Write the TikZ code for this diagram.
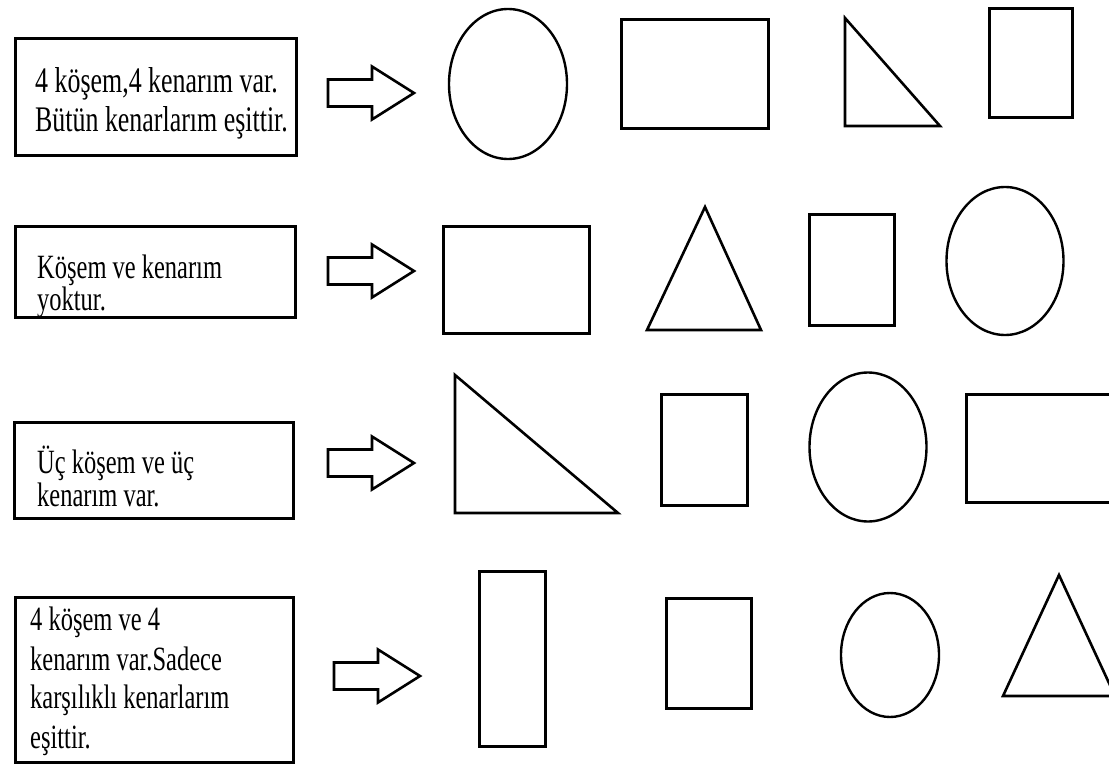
\documentclass[tikz,border=0pt]{standalone}
\usepackage{fontspec}
\newfontfamily\tnr[FakeStretch=0.72]{Liberation Serif}
\usetikzlibrary{shapes.geometric}
\begin{document}
\begin{tikzpicture}[x=1pt,y=-1pt,
  shapeline/.style={draw=black,line width=2.6pt,line join=miter},
  textbox/.style={draw=black,line width=3.4pt,rectangle,inner sep=0pt,anchor=north west},
  rectshape/.style={draw=black,line width=2.6pt,rectangle,inner sep=0pt,anchor=north west},
  ellshape/.style={draw=black,line width=2.4pt,ellipse,inner sep=0pt},
  boxtext/.style={anchor=base west,inner sep=0pt,font=\tnr\fontsize{36}{39.5}\selectfont},
  smalltext/.style={boxtext,font=\tnr\fontsize{34}{38}\selectfont},
  blockarrow/.pic={\draw[shapeline] (0,-13.5) -- (44,-13.5) -- (44,-26.5) -- (86,0) -- (44,26.5) -- (44,13.5) -- (0,13.5) -- cycle;}]
\useasboundingbox[fill=white] (0,0) rectangle (1109,765);
\clip (0,0) rectangle (1109,765);

% ---------- row 1 ----------
\node[textbox,minimum width=281pt,minimum height=117pt] (box1) at (14,37) {};
\node[boxtext] (t1a) at (35,93) {4 köşem,4 kenarım var.};
\node[boxtext] (t1b) at (35,132) {Bütün kenarlarım eşittir.};
\pic at (328,93) {blockarrow};
\node[ellshape,minimum width=118pt,minimum height=150pt] (e1) at (508,84) {};
\node[rectshape,minimum width=147pt,minimum height=109pt] (r1) at (620,18) {};
\draw[shapeline] (845,18) -- (845,126) -- (940,126) -- cycle;
\node[rectshape,minimum width=83pt,minimum height=109pt] (r1b) at (988,7) {};

% ---------- row 2 ----------
\node[textbox,minimum width=280pt,minimum height=91pt] (box2) at (14,225) {};
\node[smalltext] (t2a) at (37,278) {Köşem ve kenarım};
\node[smalltext] (t2b) at (37,310) {yoktur.};
\pic at (328,271) {blockarrow};
\node[rectshape,minimum width=146pt,minimum height=107pt] (r2) at (442,225) {};
\draw[shapeline] (705,207) -- (761,330) -- (647,330) -- cycle;
\node[rectshape,minimum width=85pt,minimum height=111pt] (r2b) at (808,213) {};
\node[ellshape,minimum width=117pt,minimum height=148pt] (e2) at (1005,261) {};

% ---------- row 3 ----------
\node[textbox,minimum width=279pt,minimum height=96pt] (box3) at (13,421) {};
\node[smalltext] (t3a) at (37,473) {Üç köşem ve üç};
\node[smalltext] (t3b) at (37,506) {kenarım var.};
\pic at (328,463) {blockarrow};
\draw[shapeline] (455,375) -- (455,513) -- (618,513) -- cycle;
\node[rectshape,minimum width=86pt,minimum height=111pt] (r3) at (660,393) {};
\node[ellshape,minimum width=117pt,minimum height=149pt] (e3) at (868,447) {};
\node[rectshape,minimum width=150pt,minimum height=108pt] (r3b) at (965,393) {};

% ---------- row 4 ----------
\node[textbox,minimum width=278pt,minimum height=165pt] (box4) at (14,596) {};
\node[smalltext] (t4a) at (30,630) {4 köşem ve 4};
\node[smalltext] (t4b) at (30,670) {kenarım var.Sadece};
\node[smalltext] (t4c) at (30,708) {karşılıklı kenarlarım};
\node[smalltext] (t4d) at (30,748) {eşittir.};
\pic at (334,676) {blockarrow};
\node[rectshape,minimum width=66pt,minimum height=175pt] (r4) at (478,570) {};
\node[rectshape,minimum width=85pt,minimum height=110pt] (r4b) at (665,597) {};
\node[ellshape,minimum width=98pt,minimum height=124pt] (e4) at (890,655) {};
\draw[shapeline] (1059,575) -- (1115,696) -- (1003,696) -- cycle;
\end{tikzpicture}
\end{document}
